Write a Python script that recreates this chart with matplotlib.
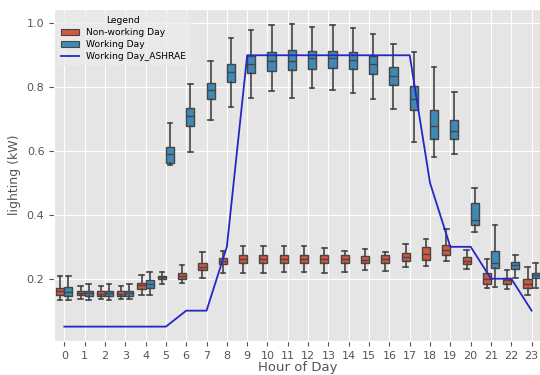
import numpy as np
import matplotlib.pyplot as plt
from matplotlib.patches import Patch
from matplotlib.lines import Line2D

plt.style.use("ggplot")

# === Data ===
hours = list(range(24))

# non-working day: whisker low, Q1, median, Q3, whisker high
nw_lo = [.133, .135, .135, .135, .148, .184, .1875, .202, .219, .219, .219, .221,
         .221, .219, .221, .226, .224, .237, .2385, .257, .229, .170, .169, .148]
nw_q1 = [.148, .148, .146, .146, .169, .198, .200, .226, .247, .250, .250, .250,
         .249, .249, .250, .248, .250, .254, .260, .273, .245, .184, .184, .172]
nw_med = [.161, .156, .153, .153, .179, .205, .210, .2375, .257, .2625, .2625, .2625,
          .263, .2625, .2625, .260, .2625, .268, .277, .290, .257, .198, .196, .185]
nw_q3 = [.172, .161, .161, .161, .1875, .210, .219, .250, .266, .273, .273, .273,
         .275, .274, .273, .271, .273, .281, .299, .307, .268, .219, .203, .200]
nw_hi = [.208, .177, .177, .177, .211, .221, .242, .283, .286, .304, .303, .302,
         .304, .295, .286, .294, .284, .310, .325, .357, .291, .263, .226, .2375]

# working day
w_lo = [.133, .133, .133, .135, .148, .557, .597, .698, .739, .767, .789, .766,
        .797, .792, .783, .7625, .731, .628, .581, .591, .347, .174, .201, .170]
w_q1 = [.147, .146, .146, .146, .172, .562, .679, .764, .8175, .843, .852, .854,
        .857, .861, .857, .842, .807, .729, .638, .638, .367, .234, .231, .201]
w_med = [.159, .154, .154, .155, .182, .591, .710, .792, .847, .873, .882, .883,
         .891, .893, .885, .872, .836, .763, .679, .663, .383, .248, .242, .211]
w_q3 = [.173, .161, .161, .163, .195, .614, .734, .8125, .873, .899, .909, .917,
        .913, .914, .909, .899, .864, .805, .729, .698, .4375, .288, .252, .219]
w_hi = [.209, .185, .182, .182, .221, .6875, .809, .882, .953, .980, .995, .998,
        .989, .995, .984, .967, .934, .911, .8625, .786, .484, .3675, .273, .248]

ashrae = [.05, .05, .05, .05, .05, .05, .1, .1, .3, .9, .9, .9,
          .9, .9, .9, .9, .9, .9, .5, .3, .3, .2, .2, .1]

red = "#D1573F"
blue = "#3E89B6"
edge = "#454545"


def make_stats(lo, q1, med, q3, hi):
    return [dict(whislo=a, q1=b, med=c, q3=d, whishi=e, fliers=[])
            for a, b, c, d, e in zip(lo, q1, med, q3, hi)]


fig = plt.figure(figsize=(5.4, 3.75), dpi=100)
ax = fig.add_axes([0.1003, 0.0907, 0.903, 0.8845])

x = np.array(hours)
for stats, off, col in [
    (make_stats(nw_lo, nw_q1, nw_med, nw_q3, nw_hi), -0.2, red),
    (make_stats(w_lo, w_q1, w_med, w_q3, w_hi), 0.2, blue),
]:
    ax.bxp(stats, positions=x + off, widths=0.4, patch_artist=True,
           showfliers=False, manage_ticks=False, capwidths=0.22,
           boxprops=dict(facecolor=col, edgecolor=edge, linewidth=1),
           medianprops=dict(color=edge, linewidth=1),
           whiskerprops=dict(color=edge, linewidth=1.2),
           capprops=dict(color=edge, linewidth=1.2))

ax.plot(x, ashrae, color="#2626c8", lw=1.3, zorder=5)

ax.set_xlim(-0.5, 23.5)
ax.set_ylim(0.005, 1.044)
ax.set_xticks(hours)
ax.set_xticklabels([str(h) for h in hours])
ax.set_yticks([0.2, 0.4, 0.6, 0.8, 1.0])
ax.tick_params(labelsize=8, colors="#555555")
ax.set_xlabel("Hour of Day", fontsize=9.5, color="#555555", labelpad=0)
ax.set_ylabel("lighting (kW)", fontsize=9, color="#555555", labelpad=4)

handles = [
    Patch(facecolor=red, edgecolor=edge, linewidth=0.8),
    Patch(facecolor=blue, edgecolor=edge, linewidth=0.8),
    Line2D([], [], color="#2626c8", lw=1.3),
]
leg = ax.legend(handles, ["Non-working Day", "Working Day", "Working Day_ASHRAE"],
                title="Legend", loc="upper left", fontsize=6.6, title_fontsize=6.6,
                frameon=True, borderaxespad=0.3, handlelength=2.0,
                labelspacing=0.35)
leg.get_frame().set_facecolor("#EBEBEB")
leg.get_frame().set_edgecolor("#EBEBEB")

fig.savefig("out.png", dpi=100)
